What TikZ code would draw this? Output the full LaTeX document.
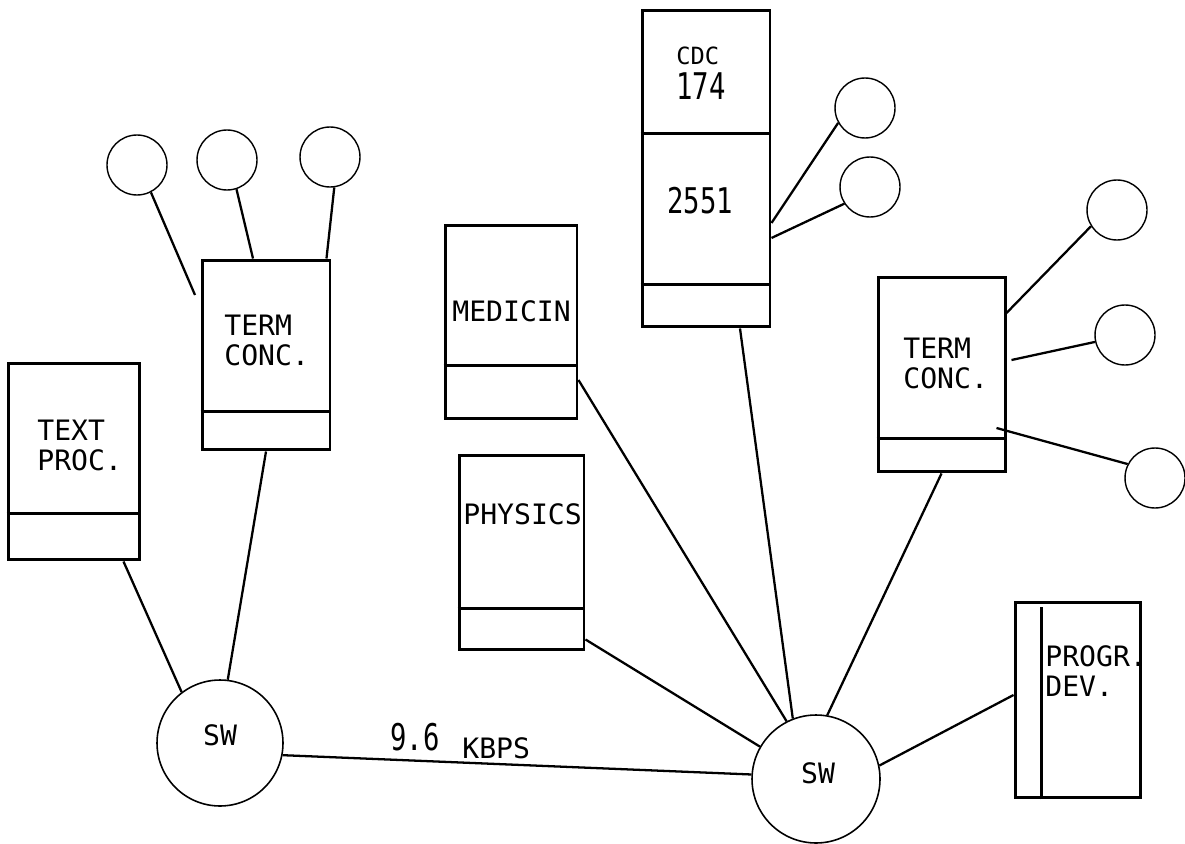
\documentclass[tikz,border=0pt]{standalone}
\usepackage{fontspec}
\usepackage{graphicx}
\newfontfamily\typefont{DejaVu Sans Mono}
\usetikzlibrary{calc}
\tikzset{
  box/.style={draw, rectangle, line width=1.7pt, inner sep=0pt},
  term/.style={draw, circle, line width=0.8pt, minimum size=1.2cm, inner sep=0pt},
  switch/.style={draw, circle, line width=0.9pt, inner sep=0pt},
  divider/.style={line width=1.7pt},
  link/.style={line width=1.3pt},
  lbl/.style={anchor=north west, inner sep=0pt, align=left, font=\typefont\fontsize{16pt}{17pt}\selectfont},
  digits/.style={anchor=north west, inner sep=0pt, font=\typefont\fontsize{15.5pt}{17pt}\selectfont},
  swlbl/.style={inner sep=0pt, font=\typefont\fontsize{16pt}{17pt}\selectfont},
}
\begin{document}
\begin{tikzpicture}[x=0.02cm, y=-0.02cm]
\useasboundingbox (0,0) rectangle (1185,844);

% boxes
\node[box, minimum width=2.64cm, minimum height=3.94cm] (textproc) at (74,461.5) {};
\node[box, minimum width=2.56cm, minimum height=3.8cm] (tc1) at (266,355) {};
\node[box, minimum width=2.56cm, minimum height=6.34cm] (cdc) at (706,168.5) {};
\node[box, minimum width=2.64cm, minimum height=3.88cm] (medicin) at (511,322) {};
\node[box, minimum width=2.5cm, minimum height=3.9cm] (physics) at (521.5,552.5) {};
\node[box, minimum width=2.54cm, minimum height=3.9cm] (tc2) at (941.5,374.5) {};
\node[box, minimum width=2.5cm, minimum height=3.92cm] (progr) at (1077.5,700) {};

% dividers
\draw[divider] ([yshift=0.96cm]textproc.south west) -- ([yshift=0.96cm]textproc.south east);
\draw[divider] ([yshift=0.8cm]tc1.south west) -- ([yshift=0.8cm]tc1.south east);
\draw[divider] ([yshift=0.88cm]cdc.south west) -- ([yshift=0.88cm]cdc.south east);
\draw[divider] ([yshift=3.9cm]cdc.south west) -- ([yshift=3.9cm]cdc.south east);
\draw[divider] ([yshift=1.1cm]medicin.south west) -- ([yshift=1.1cm]medicin.south east);
\draw[divider] ([yshift=0.86cm]physics.south west) -- ([yshift=0.86cm]physics.south east);
\draw[divider] ([yshift=0.7cm]tc2.south west) -- ([yshift=0.7cm]tc2.south east);
\draw[divider] ([xshift=0.56cm]progr.south west) -- ([xshift=0.56cm,yshift=-0.12cm]progr.north west);

% labels
\node[lbl] (textprocL) at (37,420) {TEXT\\PROC.};
\node[lbl] (tc1L) at (224,315) {TERM\\CONC.};
\node[lbl] (medicinL) at (452,300) {MEDICIN};
\node[lbl] (physicsL) at (463,503) {PHYSICS};
\node[lbl] (tc2L) at (903,338) {TERM\\CONC.};
\node[lbl] (progrL) at (1045,645) {PROGR.\\DEV.};
\node[digits, font=\typefont\fontsize{13.5pt}{17pt}\selectfont] (cdcL) at (676,47) {CDC};
\node[digits] (cdcN) at (676,72) {\scalebox{1}[1.35]{174}};
\node[digits] (cdc2551) at (667,187) {\scalebox{1}[1.3]{2551}};

% terminals
\node[term] (t1) at (137,165) {};
\node[term] (t2) at (227,160) {};
\node[term] (t3) at (330,157) {};
\node[term] (c1) at (865,108) {};
\node[term] (c2) at (870,187) {};
\node[term] (r1) at (1117,210) {};
\node[term] (r2) at (1125,335) {};
\node[term] (r3) at (1155,478) {};

% switches
\node[switch, minimum size=2.52cm] (sw1) at (220,743) {};
\node[switch, minimum size=2.56cm] (sw2) at (816,779) {};
\node[swlbl] (sw1L) at (220,735) {SW};
\node[swlbl] (sw2L) at (818,773) {SW};

% terminal connectors
\coordinate (t1end) at (195,295);
\draw[link] (t1.-63) -- (t1end);
\draw[link] (t2.-72) -- ([xshift=-0.26cm]tc1.north);
\draw[link] (t3.-82) -- ([xshift=-0.1cm]tc1.north east);
\draw[link] (c1.209) -- ([yshift=-1.09cm]cdc.east);
\draw[link] (c2.213) -- ([yshift=-1.39cm]cdc.east);
\draw[link] (r1.212) -- ([yshift=1.23cm]tc2.east);
\draw[link] (r2.193) -- ([xshift=0.1cm,yshift=0.29cm]tc2.east);
\draw[link] ([xshift=-0.2cm,yshift=-1.07cm]tc2.east) -- (r3.153);

% switch connectors
\draw[link] (tc1.south) -- (sw1.83);
\draw[link] ([xshift=-0.36cm]textproc.south east) -- (sw1.127);
\draw[link] (sw1.-11) -- (sw2.176);
\node[digits] (rateN) at (390,723) {\scalebox{1}[1.35]{9.6}};
\node[lbl] (rateU) at (462,737) {KBPS};
\draw[link] ([yshift=-1.16cm]medicin.east) -- (sw2.117);
\draw[link] ([yshift=0.24cm]physics.south east) -- (sw2.150);
\draw[link] ([xshift=0.68cm]cdc.south) -- (sw2.111);
\draw[link] (tc2.south) -- (sw2.80);
\draw[link] (sw2.12) -- ([yshift=0.1cm]progr.west);
\end{tikzpicture}
\end{document}
